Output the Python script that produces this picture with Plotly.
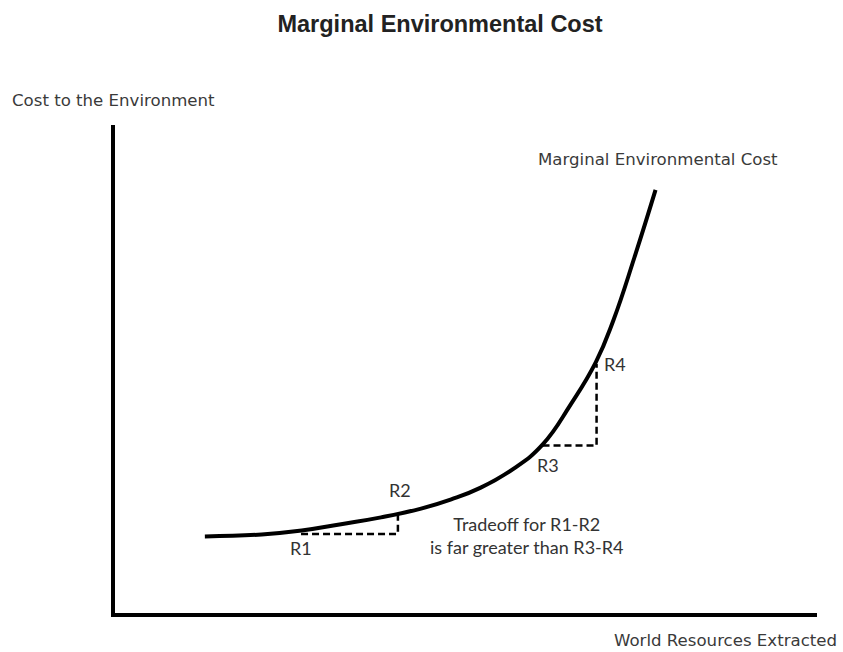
import plotly.graph_objects as go

# marginal environmental cost curve (resources extracted vs cost)
resources = [12.8, 20.9, 26.6, 32.2, 37.9, 43.6, 47.9, 52.1, 56.8, 60.9, 64.9, 68.5, 71.0, 74.0, 77.0]
cost = [15.7, 16.1, 16.9, 18.2, 19.6, 21.4, 23.3, 25.7, 29.6, 34.5, 42.7, 51.4, 60.0, 72.9, 86.7]

# the four marked points on the curve
r_names = ["R1", "R2", "R3", "R4"]
r_x = [26.5, 40.3, 60.9, 68.6]
r_y = [16.2, 20.2, 34.3, 51.0]

title = "Marginal Environmental Cost"
curve_label = "Marginal Environmental Cost"
x_label = "World Resources Extracted"
y_label = "Cost to the Environment"
note = "Tradeoff for R1-R2<br>is far greater than R3-R4"

label_font = dict(family="DejaVu Sans", size=16.6, color="#3a3a3a")
r_font = dict(family="Lato", size=18, color="#333333")

fig = go.Figure()

fig.add_trace(go.Scatter(
    x=resources, y=cost, mode="lines",
    line=dict(color="black", width=4, shape="spline", smoothing=1.3),
    hoverinfo="skip",
))

# dashed step triangles R1-R2 and R3-R4
for a, b in [(0, 1), (2, 3)]:
    fig.add_trace(go.Scatter(
        x=[r_x[a], r_x[b], r_x[b]], y=[r_y[a], r_y[a], r_y[b]],
        mode="lines", line=dict(color="black", width=2.5, dash="7px,4px"),
        hoverinfo="skip",
    ))

shifts = [(0, -14), (2, 24), (5, -19), (18, 0)]
for name, x, y, (dx, dy) in zip(r_names, r_x, r_y, shifts):
    fig.add_annotation(x=x, y=y, text=name, showarrow=False, font=r_font,
                       xanchor="center", yanchor="middle", xshift=dx, yshift=dy)

fig.add_annotation(x=58.7, y=15.9, text=note, showarrow=False, font=r_font,
                   xanchor="center", yanchor="middle")
fig.add_annotation(x=77.4, y=92.9, text=curve_label, showarrow=False, font=label_font,
                   xanchor="center", yanchor="middle")

fig.add_annotation(xref="paper", yref="paper", x=-0.149, y=1.051, text=y_label,
                   showarrow=False, font=label_font, xanchor="left", yanchor="middle")
fig.add_annotation(xref="paper", yref="paper", x=1.031, y=-0.057, text=x_label,
                   showarrow=False, font=label_font, xanchor="right", yanchor="middle")

axis = dict(showline=True, linewidth=4, linecolor="black", showgrid=False,
            zeroline=False, showticklabels=False, ticks="", fixedrange=True)

fig.update_layout(
    width=843, height=652,
    margin=dict(l=115, r=26, t=125, b=39),
    paper_bgcolor="white", plot_bgcolor="white",
    showlegend=False,
    title=dict(text=f"<b>{title}</b>", xref="container", x=0.522, xanchor="center",
               yref="container", y=0.964, yanchor="middle",
               font=dict(family="Liberation Sans", size=23.5, color="#222222")),
    xaxis=dict(range=[0, 100], **axis),
    yaxis=dict(range=[0, 100], **axis),
)

fig.write_html("out.html", config={"displayModeBar": False},
               post_script="document.body.style.margin='0';")
